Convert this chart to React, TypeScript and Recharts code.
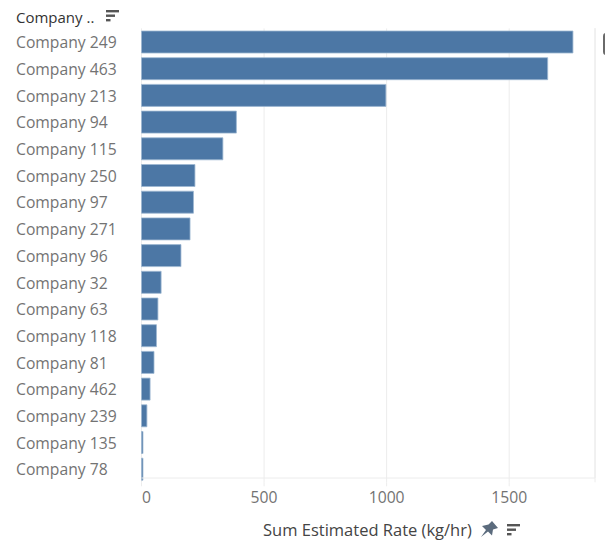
import { BarChart, Bar, XAxis, YAxis, CartesianGrid } from "recharts";

const FONT = '"Open Sans", sans-serif';

const companies = [
  "Company 249", "Company 463", "Company 213", "Company 94", "Company 115", "Company 250",
  "Company 97", "Company 271", "Company 96", "Company 32", "Company 63", "Company 118",
  "Company 81", "Company 462", "Company 239", "Company 135", "Company 78",
];
const rates = [1760, 1657, 997, 387, 332, 218, 212, 198, 161, 80, 67, 61, 51, 35, 22, 6, 6];
const rateTicks = [0, 500, 1000, 1500];

const rows = companies.map((company, i) => ({ company, rate: rates[i] }));

function CompanyTick({ y, payload }: any) {
  return (
    <text x={16} y={y} dy={6.5} textAnchor="start" fontFamily={FONT} fontSize={15.7} fill="#737373">
      {payload.value}
    </text>
  );
}

function RateTick({ x, y, payload }: any) {
  // the zero label is nudged right so it clears the band labels
  const shift = payload.value === 0 ? 5 : 0;
  return (
    <text x={x + shift} y={y} dy={15} textAnchor="middle" fontFamily={FONT} fontSize={15.7} fill="#737373">
      {payload.value}
    </text>
  );
}

function SortIcon({ x, y, color }: { x: number; y: number; color: string }) {
  return (
    <g fill={color}>
      <rect x={x} y={y} width={13} height={2.4} />
      <rect x={x} y={y + 4.5} width={9} height={2.4} />
      <rect x={x} y={y + 9} width={4.5} height={2.4} />
    </g>
  );
}

export default function App() {
  return (
    <div style={{ position: "absolute", left: 0, top: 0, width: 605, height: 540, background: "#fff" }}>
      <BarChart
        width={605}
        height={540}
        data={rows}
        layout="vertical"
        barCategoryGap={2.6}
        margin={{ top: 28.4, right: 10, bottom: 0, left: 16.5 }}
      >
        <CartesianGrid horizontal={false} stroke="#ececec" />
        <XAxis
          type="number"
          domain={[0, 1850]}
          ticks={rateTicks}
          tick={<RateTick />}
          tickSize={4}
          tickLine={{ stroke: "#ececec" }}
          axisLine={false}
          height={57.7}
          interval={0}
        />
        <YAxis
          type="category"
          dataKey="company"
          width={125}
          tick={<CompanyTick />}
          tickLine={false}
          axisLine={false}
          interval={0}
        />
        <Bar dataKey="rate" fill="#4c77a5" stroke="#9db8d2" strokeWidth={0.8} isAnimationActive={false} />
      </BarChart>

      <svg width={605} height={540} style={{ position: "absolute", left: 0, top: 0, pointerEvents: "none" }}>
        <line x1={141.5} x2={595} y1={478} y2={478} stroke="#ececec" />
        <line x1={595} x2={595} y1={28} y2={478} stroke="#ececec" />
        <rect x={603} y={33} width={6} height={22} rx={3} fill="#6a6a6a" />
        <text x={16} y={23} fontFamily={FONT} fontSize={15} fill="#333">Company ..</text>
        <SortIcon x={106} y={10} color="#555" />
        <text x={263} y={536} fontFamily={FONT} fontSize={16.5} fill="#444">Sum Estimated Rate (kg/hr)</text>
        <path
          d="M492 521 l6 7 l-5 1.5 l-1 6 l-4 -4 l-7 5.5 l5 -7 l-4 -4 l6.5 -1.5 z"
          fill="#5b6b7d"
        />
        <SortIcon x={507} y={524} color="#555" />
      </svg>
    </div>
  );
}
